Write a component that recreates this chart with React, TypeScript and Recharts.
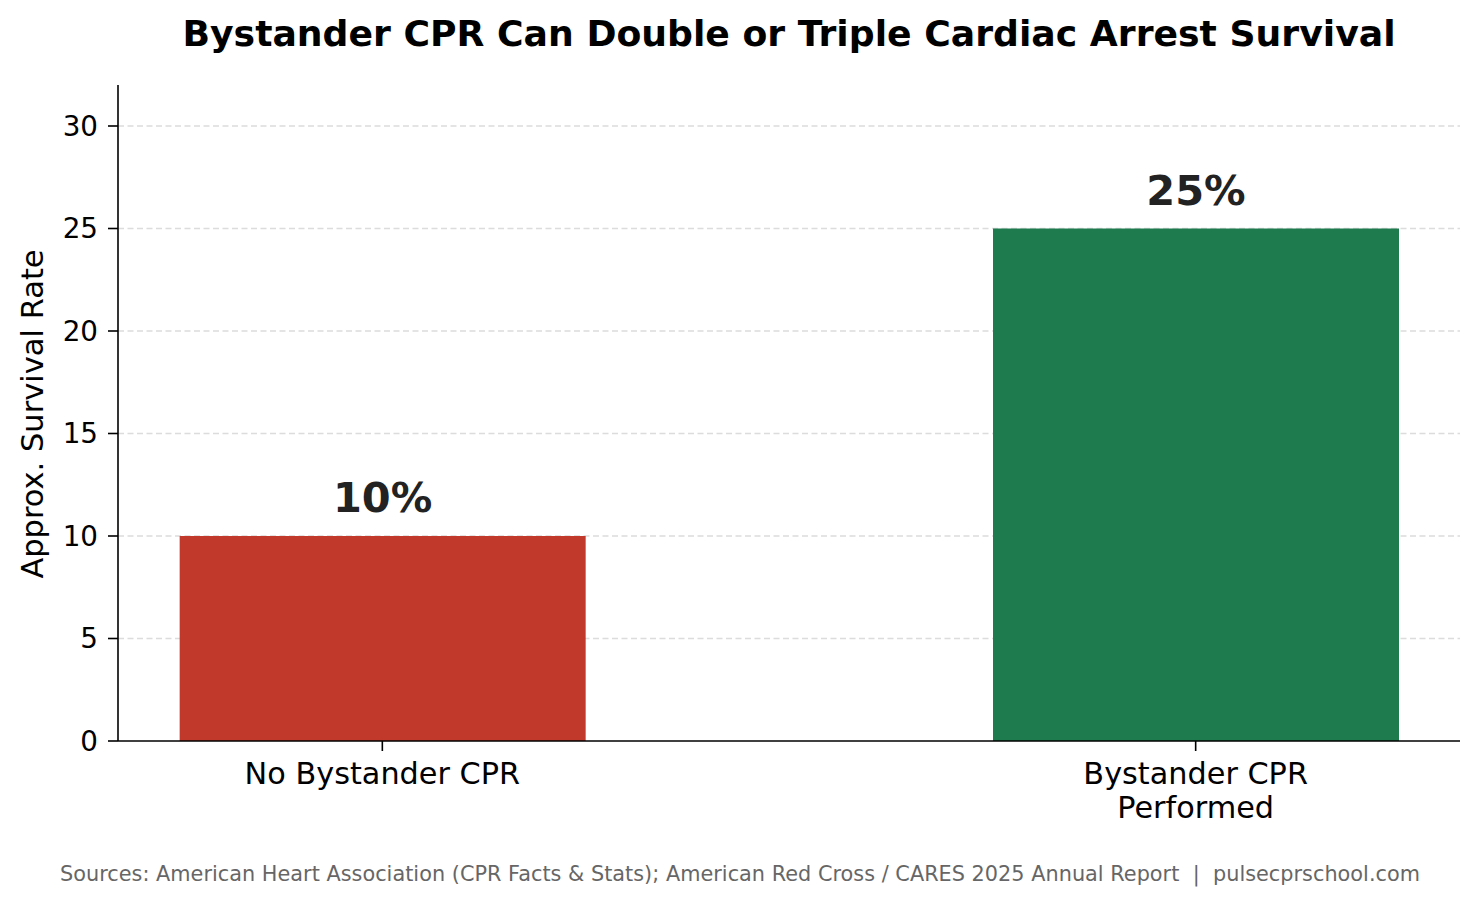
import React from 'react';
import { BarChart, Bar, XAxis, YAxis, CartesianGrid, Cell, LabelList } from 'recharts';

const categories = ['No Bystander CPR', 'Bystander CPR\nPerformed'];
const survivalRates = [10, 25];
const barColors = ['#C0392B', '#1E7B4E'];
const yTicks = [0, 5, 10, 15, 20, 25, 30];

const FONT = 'DejaVu Sans, Verdana, sans-serif';

const data = categories.map((name, i) => ({ x: i, name, rate: survivalRates[i] }));

const CategoryTick = (props: any) => {
  const { x, y, payload } = props;
  const lines = categories[payload.value].split('\n');
  return (
    <text x={x} y={y} textAnchor="middle" fontFamily={FONT} fontSize={30.3} fill="#000">
      {lines.map((line, i) => (
        <tspan key={i} x={x} dy={i === 0 ? 23 : 34}>
          {line}
        </tspan>
      ))}
    </text>
  );
};

const ValueLabel = (props: any) => {
  const { x, y, width, value } = props;
  return (
    <text
      x={x + width / 2}
      y={y - 24}
      textAnchor="middle"
      fontFamily={FONT}
      fontWeight="bold"
      fontSize={41.5}
      fill="#222"
    >
      {`${value}%`}
    </text>
  );
};

export default function App() {
  return (
    <div style={{ position: 'absolute', left: 0, top: 0, width: 1480, height: 906, background: '#fff' }}>
      <BarChart
        width={1480}
        height={906}
        data={data}
        margin={{ top: 85, right: 20, left: 0, bottom: 65 }}
      >
        <CartesianGrid
          vertical={false}
          horizontal
          stroke="#dcdcdc"
          strokeWidth={1.5}
          strokeDasharray="6 3.5"
          horizontalValues={yTicks.slice(1)}
        />
        <XAxis
          dataKey="x"
          type="number"
          domain={[-0.325, 1.325]}
          ticks={[0, 1]}
          allowDataOverflow
          height={100}
          stroke="#000"
          strokeWidth={1.6}
          tickSize={10}
          tickMargin={10}
          tick={<CategoryTick />}
        />
        <YAxis
          domain={[0, 32]}
          ticks={yTicks}
          allowDataOverflow
          width={118}
          stroke="#000"
          strokeWidth={1.6}
          tickSize={10}
          tickMargin={10}
          tick={{ fontFamily: FONT, fontSize: 27.8, fill: '#000' }}
        />
        <Bar dataKey="rate" barSize={406} isAnimationActive={false}>
          {data.map((d, i) => (
            <Cell key={d.name} fill={barColors[i]} />
          ))}
          <LabelList dataKey="rate" content={<ValueLabel />} />
        </Bar>
      </BarChart>
      <svg
        width={1480}
        height={906}
        style={{ position: 'absolute', left: 0, top: 0, pointerEvents: 'none' }}
      >
        <text x={789} y={46} textAnchor="middle" fontFamily={FONT} fontWeight="bold" fontSize={36.2} fill="#000">
          Bystander CPR Can Double or Triple Cardiac Arrest Survival
        </text>
        <text
          x={43}
          y={414}
          transform="rotate(-90 43 414)"
          textAnchor="middle"
          fontFamily={FONT}
          fontSize={30.5}
          fill="#000"
        >
          Approx. Survival Rate
        </text>
        <text
          x={740}
          y={881}
          textAnchor="middle"
          fontFamily={FONT}
          fontSize={20.8}
          fill="#666"
          textLength={1360}
          lengthAdjust="spacing"
          xmlSpace="preserve"
        >
          Sources: American Heart Association (CPR Facts &amp; Stats); American Red Cross / CARES 2025 Annual Report  |  pulsecprschool.com
        </text>
      </svg>
    </div>
  );
}
